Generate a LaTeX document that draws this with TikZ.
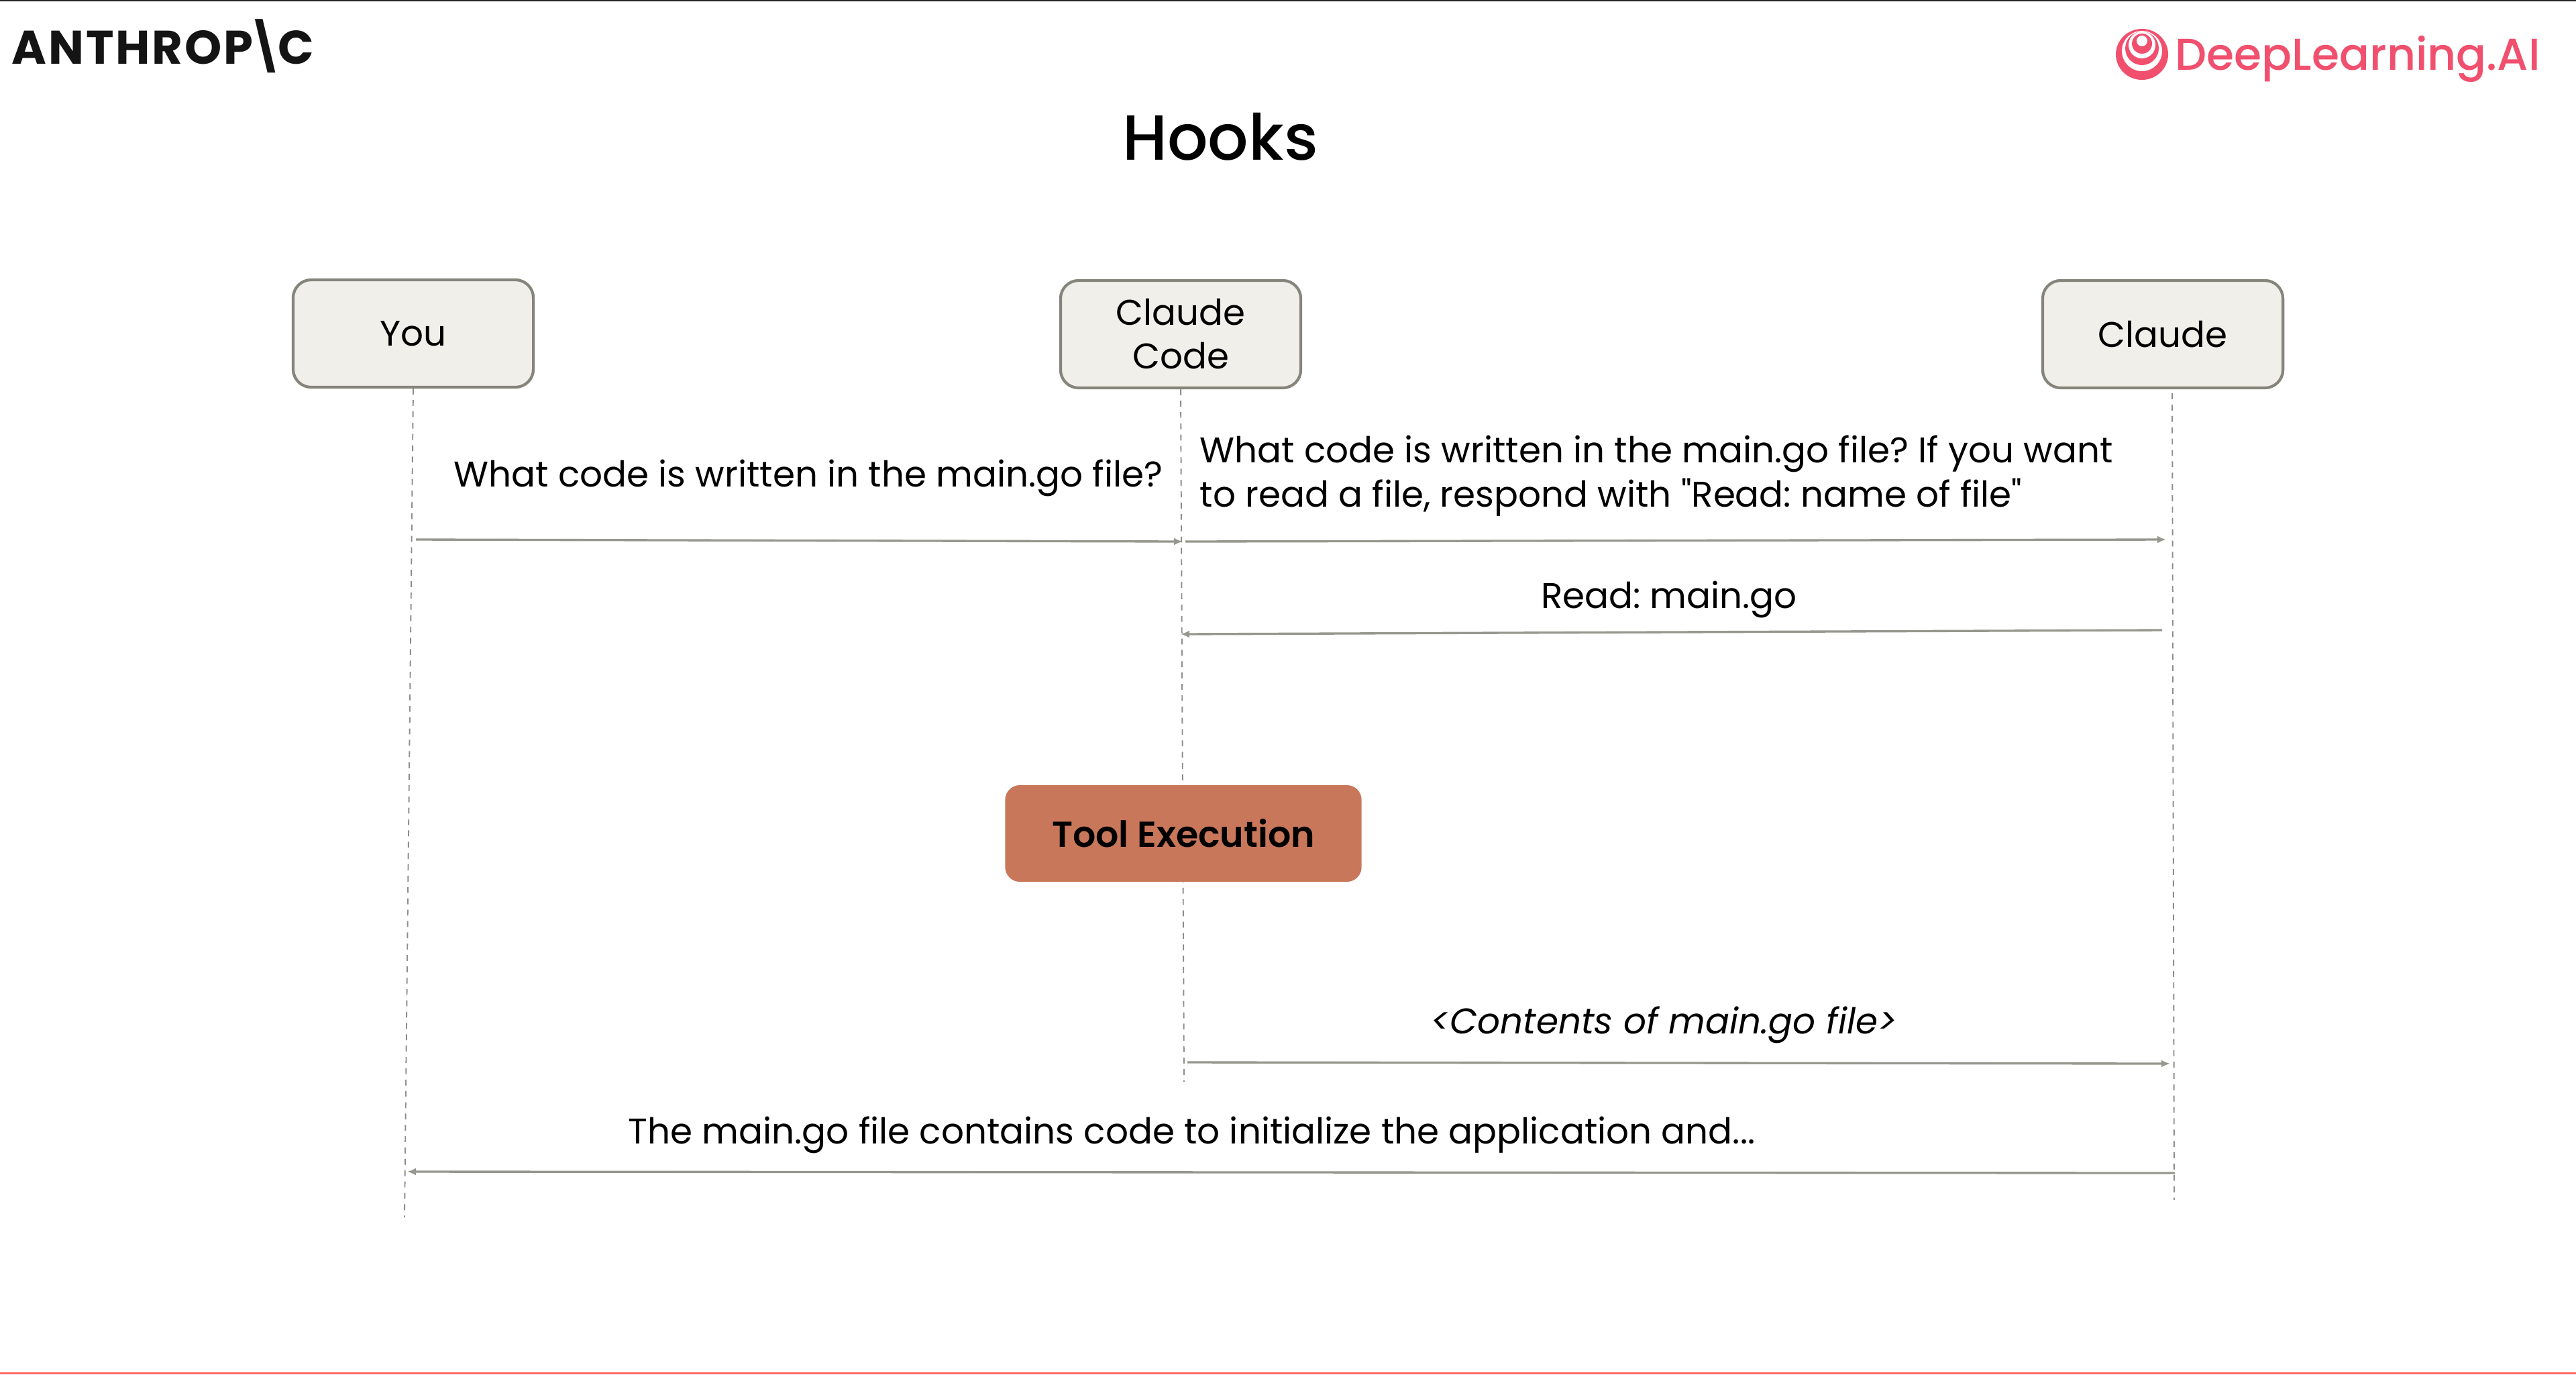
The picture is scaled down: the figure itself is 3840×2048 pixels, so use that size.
\documentclass[tikz,border=0pt]{standalone}
\usepackage{fontspec}
\setmainfont[Ligatures=TeXOff]{Poppins}
\newfontfamily\mediumfont{Poppins Medium}
\newfontfamily\semifont{Poppins SemiBold}
\newfontfamily\logofont[LetterSpace=4]{Poppins Bold}
\usepackage{tikz}
\usetikzlibrary{arrows.meta, positioning}
\definecolor{boxfill}{HTML}{F0EFEA}
\definecolor{boxline}{HTML}{85857C}
\definecolor{msgline}{HTML}{96978E}
\definecolor{lifeline}{HTML}{8E8E8A}
\definecolor{toolfill}{HTML}{C9775A}
\definecolor{dlpink}{HTML}{F0506E}

\begin{document}
\frenchspacing
\begin{tikzpicture}[x=0.01cm, y=-0.01cm,
  actor/.style={draw=boxline, fill=boxfill, line width=1.2pt, rounded corners=0.27cm,
                minimum width=3.58cm, minimum height=1.6cm, inner sep=0pt,
                align=center, font=\fontsize{15.1}{18.5}\selectfont},
  tool/.style={fill=toolfill, rounded corners=0.22cm, minimum width=5.31cm, minimum height=1.44cm,
               inner sep=0pt, font=\fontsize{15.3}{18.5}\semifont},
  msg/.style={inner sep=0pt, align=left, font=\fontsize{15.13}{18.5}\selectfont},
  life/.style={draw=lifeline, line width=0.55pt, dash pattern=on 2.5pt off 2.3pt},
  call/.style={draw=msgline, line width=0.95pt, -{Latex[length=0.13cm, width=0.11cm]}}]
  \useasboundingbox (0,0) rectangle (3840,2048);
  \fill[black!85] (0,0) rectangle (3840,2);
  \fill[red!45!pink] (0,2045) rectangle (3840,2048);

  % logos and title
  \node[anchor=base west, inner sep=0pt, font=\fontsize{20}{24}\logofont, text=black!92] (anthropic) at (17,95) {ANTHROP\kern-.14em\textbackslash\kern-.14em C};
  \fill[dlpink] (3193,81) ellipse (39 and 38);
  \fill[white]  (3193,76) circle (30);
  \fill[dlpink] (3193,72) circle (25);
  \fill[white]  (3193,67) circle (20);
  \fill[dlpink] (3193,65) circle (15);
  \fill[white]  (3193,61) circle (8);
  \node[anchor=base west, inner sep=0pt, font=\fontsize{18.9}{22}\mediumfont, text=dlpink] (deeplearning) at (3242,104) {DeepLearning.AI};
  \node[anchor=base, inner sep=0pt, font=\fontsize{27}{32}\mediumfont] (title) at (1819,238) {Hooks};

  % the three parties
  \node[actor] (you)    at (616,497)  {You};
  \node[actor] (code)   at (1760,498) {Claude\\Code};
  \node[actor] (claude) at (3224,498) {Claude};

  \coordinate (youend)    at (603,1814);
  \coordinate (codeend)   at (1765,1612);
  \coordinate (claudeend) at (3241,1788);
  \draw[life] (you.south) -- (youend);
  \draw[life] (code.south) -- (codeend);
  \draw[life] (claude.south) ++(14,6) -- (claudeend);

  \node[tool] (exec) at (1764,1242) {Tool Execution};

  % messages, top to bottom
  \coordinate (a1s) at (620,804);   \coordinate (a1e) at (1763,807);
  \coordinate (a2s) at (1767,807);  \coordinate (a2e) at (3229,804);
  \coordinate (a3s) at (3223,939);  \coordinate (a3e) at (1760,945);
  \coordinate (a4s) at (1770,1583); \coordinate (a4e) at (3235,1585);
  \coordinate (a5s) at (3242,1748); \coordinate (a5e) at (607,1746);
  \foreach \n in {a1, a2, a3, a4, a5}
    \draw[call] (\n s) -- (\n e);

  \node[msg, anchor=base west] (q1) at (676,725) {What code is written in the main.go file?};
  \node[msg, anchor=base west] (q2) at (1788,755) {What code is written in the main.go file? If you want\\to read a file, respond with "Read: name of file"};
  \node[msg, anchor=base] (rd) at (2488,906) {Read: main.go};
  \node[msg, anchor=base] (res) at (2480,1540) {\itshape <Contents of main.go file>};
  \node[msg, anchor=base west] (ans) at (936,1704) {The main.go file contains code to initialize the application and...};
\end{tikzpicture}
\end{document}
